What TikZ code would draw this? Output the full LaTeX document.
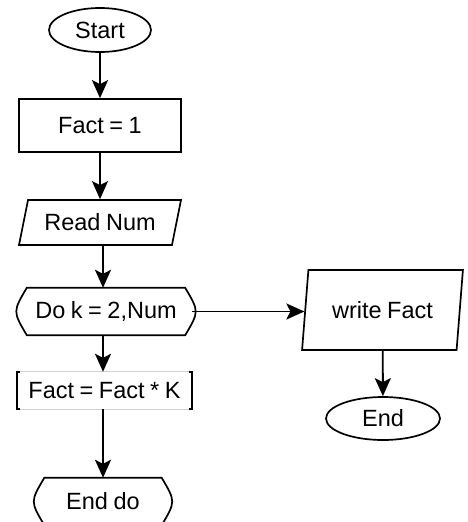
\documentclass[tikz,border=0pt]{standalone}
\usepackage{fontspec}
\setmainfont{Liberation Sans}[WordSpace=0.85]
\usetikzlibrary{shapes.geometric,arrows.meta}

\tikzset{
  every node/.style={font=\fontsize{23.5}{27}\selectfont, inner sep=0pt},
  terminal/.style={ellipse, draw, line width=1.7pt},
  process/.style={rectangle, draw, line width=1.7pt},
  inout/.style={trapezium, draw, line width=1.7pt, trapezium stretches=true},
  loopbox/.style={rectangle},
  flow/.style={line width=1.9pt, -{Stealth[length=18pt,width=16pt,inset=4pt]}}
}

\begin{document}
\begin{tikzpicture}[x=1pt,y=1pt,yscale=-1,xscale=1]
\useasboundingbox (0,0) rectangle (467,522);

%Shape: Ellipse
\node[terminal, minimum width=102, minimum height=44] (start) at (100,30) {Start};
%Shape: Rectangle
\node[process, minimum width=162, minimum height=53] (init) at (100,125.5) {Fact = 1};
%Shape: Parallelogram
\node[inout, trapezium left angle=68, trapezium right angle=112, minimum width=162, minimum height=45] (read) at (100,222.5) {Read Num};
%Shape: Loop start
\node[loopbox, minimum width=172, minimum height=47] (do) at (106,311.5) {Do k = 2,Num};
\draw[line width=1.7pt] ([xshift=7]do.north west) -- ([xshift=-7]do.north east)
  .. controls ([xshift=7]do.east) .. ([xshift=-7]do.south east)
  -- ([xshift=7]do.south west)
  .. controls ([xshift=-7]do.west) .. cycle;
%Shape: Bracket box
\node[loopbox, minimum width=175, minimum height=37] (calc) at (104.5,390.5) {Fact = Fact * K};
\draw[gray!35, line width=0.8pt] (calc.north west) -- (calc.north east);
\draw[gray!35, line width=0.8pt] (calc.south west) -- (calc.south east);
\draw[line width=1.7pt] ([xshift=3]calc.north west) -- (calc.north west) -- (calc.south west) -- ([xshift=3]calc.south west);
\draw[line width=1.7pt] ([xshift=-3]calc.north east) -- (calc.north east) -- (calc.south east) -- ([xshift=-3]calc.south east);
%Shape: Loop end
\node[loopbox, minimum width=131, minimum height=47] (enddo) at (103,501.5) {End do};
\draw[line width=1.7pt] ([xshift=7]enddo.north west) -- ([xshift=-7]enddo.north east)
  .. controls ([xshift=7]enddo.east) .. ([xshift=-7]enddo.south east)
  -- ([xshift=7]enddo.south west)
  .. controls ([xshift=-7]enddo.west) .. cycle;
%Shape: Parallelogram
\node[inout, trapezium left angle=76, trapezium right angle=104, minimum width=161, minimum height=80] (write) at (382.5,310) {write Fact};
%Shape: Ellipse
\node[terminal, minimum width=114, minimum height=43] (end) at (383,418.5) {End};

%Connectors
\draw[flow] (start) -- (init);
\draw[flow] (init) -- (read);
\draw[flow] (read.south -| enddo) -- (do.north -| enddo);
\draw[flow] (do.south -| enddo) -- (calc.north -| enddo);
\draw[flow] (calc.south -| enddo) -- (enddo.north);
\draw[flow] (do.east) -- (do.east -| write.west);
\draw[flow] (write) -- (end);

\end{tikzpicture}
\end{document}
